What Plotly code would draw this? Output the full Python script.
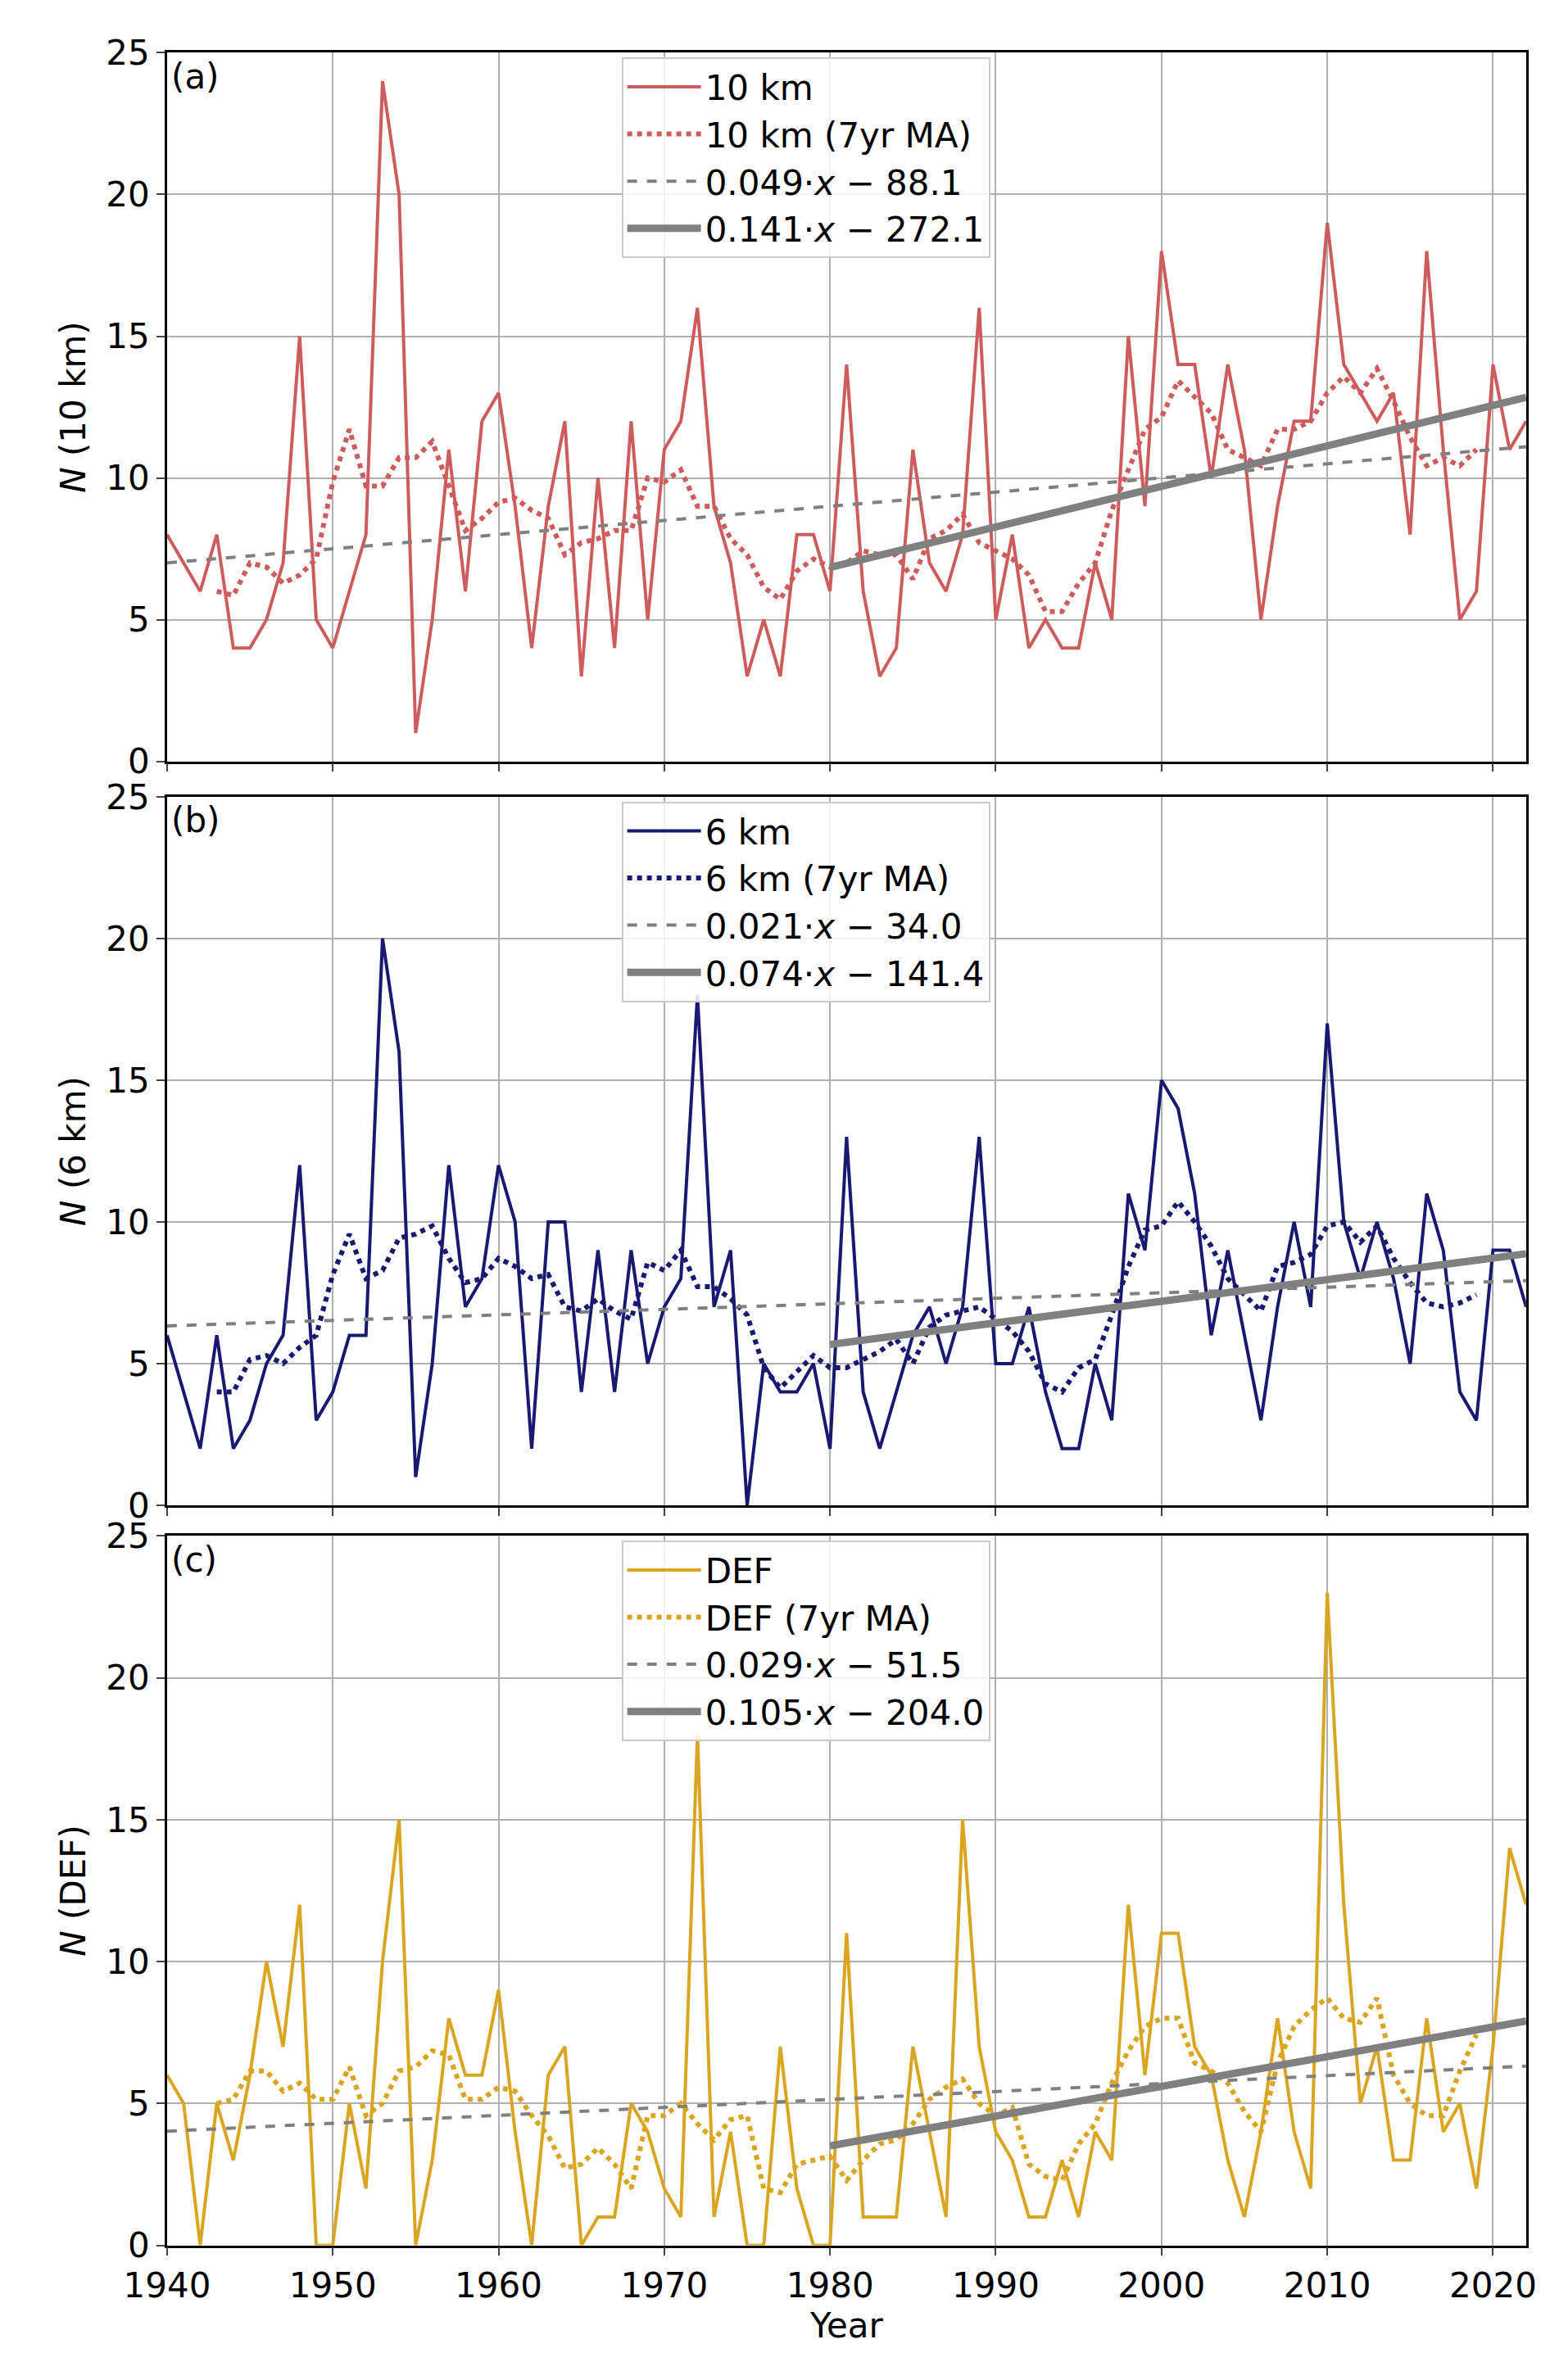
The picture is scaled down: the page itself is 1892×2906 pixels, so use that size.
import numpy as np
import pandas as pd
import plotly.graph_objects as go

years = list(range(1940, 2023))
n10 = [8,7,6,8,4,4,5,7,15,5, 4,6,8,24,20,1,5,11,6,12, 13,9,4,9,12,3,10,4,12,5,
       11,12,16,9,7,3,5,3,8,8, 6,14,6,3,4,11,7,6,8,16, 5,8,4,5,4,4,7,5,15,9,
       18,14,14,10,14,11,5,9,12,12, 19,14,13,12,13,8,18,11,5,6, 14,11,12]
n6 = [6,4,2,6,2,3,5,6,12,3, 4,6,6,20,16,1,5,12,7,8, 12,10,2,10,10,4,9,4,9,5,
      7,8,18,7,9,0,5,4,4,5, 2,13,4,2,4,6,7,5,7,13, 5,5,7,4,2,2,5,3,11,9,
      15,14,11,6,9,6,3,7,10,7, 17,10,8,10,8,5,11,9,4,3, 9,9,7]
ndef = [6,5,0,5,3,6,10,7,12,0, 0,5,2,10,15,0,3,8,6,6, 9,4,0,6,7,0,1,1,5,4,
        2,1,18,1,4,0,0,7,2,0, 0,11,1,1,1,7,4,1,15,7, 4,3,1,1,3,1,4,3,12,6,
        11,11,7,6,3,1,4,8,4,2, 23,12,5,7,3,3,8,4,5,2, 7,14,12]

names = ["10 km", "6 km", "DEF"]
colors = ["#cd5c5c", "#191970", "#daa520"]
ylabels = ["<i>N</i> (10 km)", "<i>N</i> (6 km)", "<i>N</i> (DEF)"]
panel_tags = ["(a)", "(b)", "(c)"]
# legend labels (rounded, as printed)
lab_all = ["0.049·<i>x</i> − 88.1", "0.021·<i>x</i> − 34.0", "0.029·<i>x</i> − 51.5"]
lab_1980 = ["0.141·<i>x</i> − 272.1", "0.074·<i>x</i> − 141.4", "0.105·<i>x</i> − 204.0"]
# unrounded fit coefficients (slope, intercept) as drawn
fit_all = [(0.050, -90.0), (0.0195, -31.5), (0.028, -50.3)]
fit_1980 = [(0.1429, -276.1), (0.0762, -145.2), (0.1048, -204.0)]
series = [n10, n6, ndef]

H = 2906
doms = [(1 - 913/H, 1 - 33/H), (1 - 1837/H, 1 - 957/H), (1 - 2756/H, 1 - 1875/H)]

fig = go.Figure()
FS = 42
for i in range(3):
    ax = "" if i == 0 else str(i + 1)
    xa, ya = "x" + ax, "y" + ax
    leg = "legend" if i == 0 else "legend" + str(i + 1)
    s = pd.Series(series[i], index=years)
    ma = s.rolling(7, center=True).mean()
    yr = np.array(years)
    a, b = fit_all[i]
    c, d = fit_1980[i]
    yr2 = yr[yr >= 1980]
    fig.add_trace(go.Scatter(x=years, y=series[i], mode="lines", name=names[i],
                             line=dict(color=colors[i], width=4), xaxis=xa, yaxis=ya, legend=leg))
    fig.add_trace(go.Scatter(x=years, y=ma.values, mode="lines", name=names[i] + " (7yr MA)",
                             line=dict(color=colors[i], width=6, dash="dot"), xaxis=xa, yaxis=ya, legend=leg))
    fig.add_trace(go.Scatter(x=yr, y=a * yr + b, mode="lines", name=lab_all[i],
                             line=dict(color="gray", width=4, dash="dash"), xaxis=xa, yaxis=ya, legend=leg))
    fig.add_trace(go.Scatter(x=yr2, y=c * yr2 + d, mode="lines", name=lab_1980[i],
                             line=dict(color="gray", width=9), xaxis=xa, yaxis=ya, legend=leg))
    axcommon = dict(showline=True, linecolor="black", linewidth=2.5, mirror=True,
                    ticks="outside", ticklen=10, tickwidth=2, showgrid=True,
                    gridcolor="#b0b0b0", gridwidth=2, zeroline=False,
                    tickfont=dict(size=FS, color="black"))
    fig.update_layout(**{
        ("xaxis" + ax): dict(axcommon, range=[1940, 2022], dtick=10, tick0=1940,
                              domain=[148/1892, 1866/1892], anchor=ya,
                              showticklabels=(i == 2),
                              title=dict(text="Year", font=dict(size=FS), standoff=6) if i == 2 else None,
                              matches=None if i == 0 else "x"),
        ("yaxis" + ax): dict(axcommon, range=[0, 25], dtick=5, domain=list(doms[i]), anchor=xa,
                              title=dict(text=ylabels[i], font=dict(size=FS), standoff=12)),
        leg: dict(x=0.505, xanchor="center", y=doms[i][1] - 0.002, yanchor="top",
                  bgcolor="rgba(255,255,255,0.85)", bordercolor="#cccccc", borderwidth=2,
                  font=dict(size=FS, color="black"), tracegroupgap=0, itemwidth=90),
    })
    fig.add_annotation(text=panel_tags[i], xref="x" + ax + " domain", yref="y" + ax + " domain",
                       x=0.002, y=0.997, xanchor="left", yanchor="top", showarrow=False,
                       font=dict(size=FS, color="black"))

fig.update_layout(width=1892, height=2906, plot_bgcolor="white", paper_bgcolor="white",
                  font=dict(family="DejaVu Sans", color="black"),
                  margin=dict(l=0, r=0, t=0, b=0))
fig.write_html("out.html")
